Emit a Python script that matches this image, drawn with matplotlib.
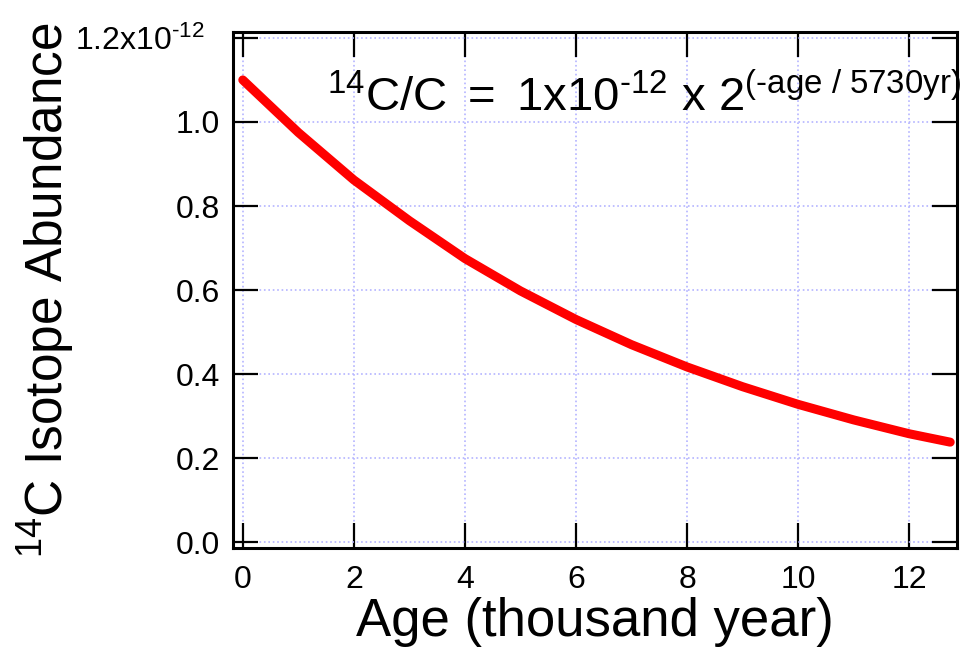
import matplotlib
matplotlib.use("Agg")
import matplotlib.pyplot as plt

plt.rcParams['font.family'] = ['Liberation Sans', 'DejaVu Sans']
plt.rcParams['mathtext.fontset'] = 'custom'
plt.rcParams['mathtext.rm'] = 'Liberation Sans'
plt.rcParams['mathtext.it'] = 'Liberation Sans'

# age in thousand years, abundance in units of 1e-12
age_kyr = [0, 1, 2, 3, 4, 5, 6, 7, 8, 9, 10, 11, 12, 12.74]
abundance = [1.10, 0.975, 0.862, 0.765, 0.675, 0.598, 0.530, 0.470, 0.417, 0.370, 0.328, 0.291, 0.258, 0.238]

x_ticks = [0, 2, 4, 6, 8, 10, 12]
y_ticks = [0.0, 0.2, 0.4, 0.6, 0.8, 1.0, 1.2]
y_tick_labels = ['0.0', '0.2', '0.4', '0.6', '0.8', '1.0', r'$\mathregular{1.2x10^{\text{-12}}}$']

fig = plt.figure(figsize=(9.74, 6.54), dpi=100)
ax = fig.add_axes([0.239, 0.162, 0.744, 0.789])

ax.plot(age_kyr, abundance, color='#ff0000', linewidth=6.5, solid_capstyle='round',
        solid_joinstyle='round')

ax.set_xlim(-0.18, 12.87)
ax.set_ylim(-0.014, 1.214)
ax.set_xticks(x_ticks)
ax.set_yticks(y_ticks)
ax.set_yticklabels(y_tick_labels)

ax.grid(True, color='#b4b4ff', linestyle=':', linewidth=1.2)
ax.set_axisbelow(True)

for s in ax.spines.values():
    s.set_linewidth(2.2)
ax.tick_params(direction='in', length=18, width=1.6, top=True, right=True,
               labelsize=23)
ax.tick_params(axis='x', pad=12)
ax.tick_params(axis='y', pad=9)
ax.yaxis.get_major_ticks()[-1].set_pad(20)

ax.set_xlabel('Age (thousand year)', fontsize=38)
ax.xaxis.set_label_coords(0.5, -0.094)
ax.set_ylabel(r'$\mathregular{^{14}C\ Isotope\ Abundance}$', fontsize=37)
ax.yaxis.set_label_coords(-0.257, 0.5)
ax.yaxis.label.set_va('center')

ax.text(0.130, 0.847,
        r'$\mathregular{^{14}C/C\ =\ 1x10^{\text{-12}}\ x\ 2^{\text{(-age / 5730yr)}}}$',
        transform=ax.transAxes, fontsize=34, va='baseline', clip_on=False)

fig.savefig('out.png', dpi=100)
